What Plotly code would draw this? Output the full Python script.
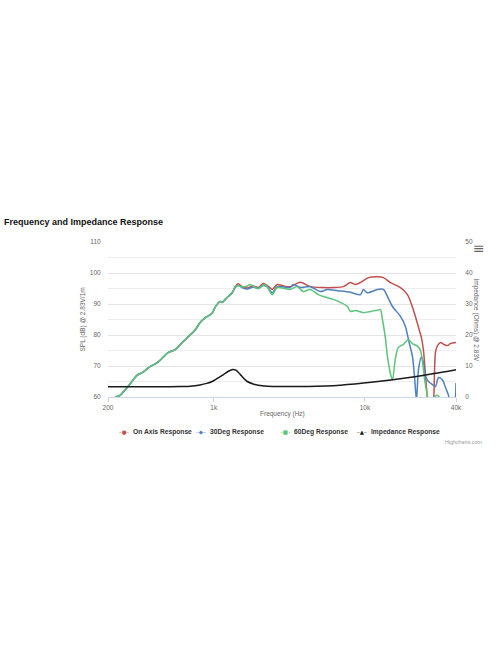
import plotly.graph_objects as go

# ---------------- data ----------------
freq_low = [223, 240, 251, 267, 288, 311, 341, 379, 422, 463, 499, 556, 618, 678, 754,
            813, 877, 977, 1023, 1103, 1138, 1191, 1246, 1325]
spl_low = [60, 60.5, 61.5, 63, 65, 67, 68, 69.8, 71, 72.8, 74.3, 75.3, 77.5, 79.4, 81.6,
           84, 85.5, 87, 89, 90.8, 90.5, 91.5, 92.4, 93.6]

freq_on_hi = [1387, 1452, 1543, 1666, 1824, 1970, 2126, 2260, 2438, 2630,
              2900, 3209, 3738, 4354, 5310, 6180, 7197, 8012, 8650, 9330,
              10540, 12090, 13250, 14740, 17180, 19100, 20940, 22600, 23660, 24380,
              25140, 25920, 26720, 27540, 28400, 29280, 30200, 31600, 33080, 35160,
              36800, 40000]
spl_on_hi = [95.6, 96.5, 95.6, 95.2, 95.8, 95.3, 96.6, 96, 94.7, 96.3,
             95.8, 95.6, 97, 95.6, 95.3, 95.3, 95.6, 96.9, 96.3, 96.9,
             98.5, 98.8, 98.5, 96.9, 95.3, 93, 88, 82.5, 79, 75,
             67, 59, 52, 52, 57, 74.5, 76.6, 77.6, 77, 76.6,
             77.3, 77.6]

freq_30_hi = [1387, 1452, 1543, 1666, 1824, 1970, 2126, 2260, 2438, 2630,
              3209, 3360, 3738, 4354, 5070, 5640, 6574, 8012, 9330, 9770,
              10380, 12090, 13250, 14090, 15200, 17180, 18540, 19400, 20620, 21260,
              21920, 22600, 23660, 24380, 25140, 26320, 27960, 29280, 30640, 32580,
              34120, 35700, 36800, 38540, 40000]
spl_30_hi = [95.3, 96, 95.3, 94.8, 95.5, 95, 96, 95.5, 93.6, 95.6,
             95.3, 96.3, 95.3, 95.6, 94, 94.7, 94.3, 93.8, 93, 94.7,
             93.6, 94.7, 94.7, 92.4, 89.2, 86, 82.7, 78.5, 73, 66.6,
             59, 68.9, 73, 71, 66.6, 65, 64, 63.4, 66.3, 65.5,
             63, 60.5, 56, 55, 64.5]

freq_60_hi = [1387, 1452, 1543, 1666, 1742, 1970, 2192, 2438, 2630, 3209,
              3570, 3910, 4354, 4920, 5310, 6180, 6880, 7656, 8012, 8650,
              9770, 10870, 12090, 12660, 13050, 13660, 14090, 14740, 15200, 15910,
              16650, 17980, 19400, 20620, 22240, 23300, 24020, 24760, 25520, 26320,
              27120, 28400, 29280, 30640, 31600, 33080, 40000]
spl_60_hi = [95.6, 96, 95.5, 95.8, 96.3, 95, 96.3, 93, 95.3, 94.7,
             95.6, 94, 94.7, 93, 92.4, 91.5, 90.5, 89.2, 87.6, 87.9,
             87.2, 87.6, 88, 88.2, 85, 79, 73, 67.5, 65.6, 72.5,
             76, 77, 78.5, 77.2, 76.4, 75, 71.4, 66, 62, 58,
             52, 57, 60.3, 60.4, 58, 50, 50]

freq_imp = [200, 300, 450, 600, 700, 813, 900, 977, 1050, 1166, 1250, 1340, 1410, 1496,
            1580, 1666, 1824, 1970, 2260, 3000, 4160, 6880, 11380, 19100, 31600, 40000]
imp = [3.3, 3.3, 3.3, 3.4, 3.5, 3.9, 4.4, 5.0, 5.9, 7.3, 8.3, 8.9, 8.6, 7.3,
       6.0, 5.0, 4.2, 3.8, 3.5, 3.4, 3.4, 3.8, 4.8, 6.2, 7.9, 8.8]

series_names = ["On Axis Response", "30Deg Response", "60Deg Response", "Impedance Response"]
series_colors = ["#c0504d", "#4f81bd", "#5cc47a", "#1a1a1a"]
series_glyphs = ["●", "◆", "■", "▲"]

x_tickvals = [200, 1000, 10000, 40000]
x_ticktext = ["200", "1k", "10k", "40k"]

# ---------------- layout constants (pixels) ----------------
W, H = 496, 664
PL, PR, PT, PB = 108, 456, 242, 397.5
PW, PH = PR - PL, PB - PT


def px(x):
    return (x - PL) / PW


def py(y):
    return (PB - y) / PH


# ---------------- figure ----------------
fig = go.Figure()

spl_sets = [
    (freq_low + freq_on_hi, spl_low + spl_on_hi),
    (freq_low + freq_30_hi, spl_low + spl_30_hi),
    (freq_low + freq_60_hi, spl_low + spl_60_hi),
]
for (fx, fy), color, name in zip(spl_sets, series_colors[:3], series_names[:3]):
    fig.add_trace(go.Scatter(x=fx, y=fy, mode="lines", name=name, showlegend=False,
                             line=dict(color=color, width=1.5, shape="spline", smoothing=0.8),
                             hoverinfo="skip"))
fig.add_trace(go.Scatter(x=freq_imp, y=imp, mode="lines", name=series_names[3],
                         showlegend=False, yaxis="y2",
                         line=dict(color=series_colors[3], width=1.5, shape="spline", smoothing=0.8),
                         hoverinfo="skip"))

base_font = "Liberation Sans, Arial, sans-serif"
tick_font = dict(family=base_font, size=6.5, color="#666666")

annotations = [
    dict(text="SPL (dB) @ 2.83V/1m", x=px(82), y=0.5, textangle=-90,
         xanchor="center", yanchor="middle",
         font=dict(family=base_font, size=6.5, color="#666666")),
    dict(text="Impedance (Ohms) @ 2.83V", x=px(476), y=0.5, textangle=90,
         xanchor="center", yanchor="middle",
         font=dict(family=base_font, size=6.5, color="#666666")),
    dict(text="Frequency (Hz)", x=0.5, y=py(415), xanchor="center", yanchor="middle",
         font=dict(family=base_font, size=6.5, color="#666666")),
    dict(text="Highcharts.com", x=px(484), y=py(443), xanchor="right", yanchor="middle",
         font=dict(family=base_font, size=5.3, color="#999999")),
    dict(text="≡", x=px(479), y=py(248), xanchor="center", yanchor="middle",
         font=dict(family="DejaVu Sans, sans-serif", size=14, color="#666666")),
]

# custom legend row (symbol + label)
legend_y = 433
legend_sym_x = [124.5, 201, 285, 362]
legend_txt_x = [131, 207.5, 291.5, 368.5]
for name, color, glyph, sx, tx in zip(series_names, series_colors, series_glyphs,
                                      legend_sym_x, legend_txt_x):
    annotations.append(dict(text="–" + glyph + "–", x=px(sx), y=py(legend_y),
                            xanchor="center", yanchor="middle",
                            font=dict(family="DejaVu Sans, sans-serif", size=5.5, color=color)))
    annotations.append(dict(text="<b>" + name + "</b>", x=px(tx), y=py(legend_y),
                            xanchor="left", yanchor="middle",
                            font=dict(family=base_font, size=6.7, color="#333333")))

for a in annotations:
    a.update(xref="paper", yref="paper", showarrow=False)

fig.update_layout(
    width=W, height=H,
    paper_bgcolor="white", plot_bgcolor="white",
    showlegend=False,
    margin=dict(l=PL, r=W - PR, t=PT, b=H - PB, pad=0, autoexpand=False),
    title=dict(text="<b>Frequency and Impedance Response</b>", x=4 / W, xanchor="left",
               xref="container", y=1 - 222 / H, yanchor="middle", yref="container",
               font=dict(family=base_font, size=9, color="#111111")),
    xaxis=dict(type="log", range=[2.30103, 4.60206], tickvals=x_tickvals, ticktext=x_ticktext,
               showgrid=False, zeroline=False, showline=True, linecolor="#ccd6eb", linewidth=1,
               ticks="outside", ticklen=4, tickcolor="#ccd6eb", tickfont=tick_font),
    yaxis=dict(range=[60, 110], dtick=10, showgrid=True, gridcolor="#e4e4e4", gridwidth=1,
               zeroline=False, showline=False, tickfont=tick_font,
               ticks="outside", ticklen=5, tickcolor="rgba(0,0,0,0)",
               minor=dict(dtick=5, showgrid=True, gridcolor="#eeeeee", ticks="")),
    yaxis2=dict(range=[0, 50], dtick=10, overlaying="y", side="right", showgrid=False,
                zeroline=False, showline=False, tickfont=tick_font,
                ticks="outside", ticklen=7, tickcolor="rgba(0,0,0,0)"),
    annotations=annotations,
)

fig.write_html("out.html",
               config={"displayModeBar": False},
               post_script="document.body.style.margin='0px';"
                           "document.body.style.overflow='hidden';")
